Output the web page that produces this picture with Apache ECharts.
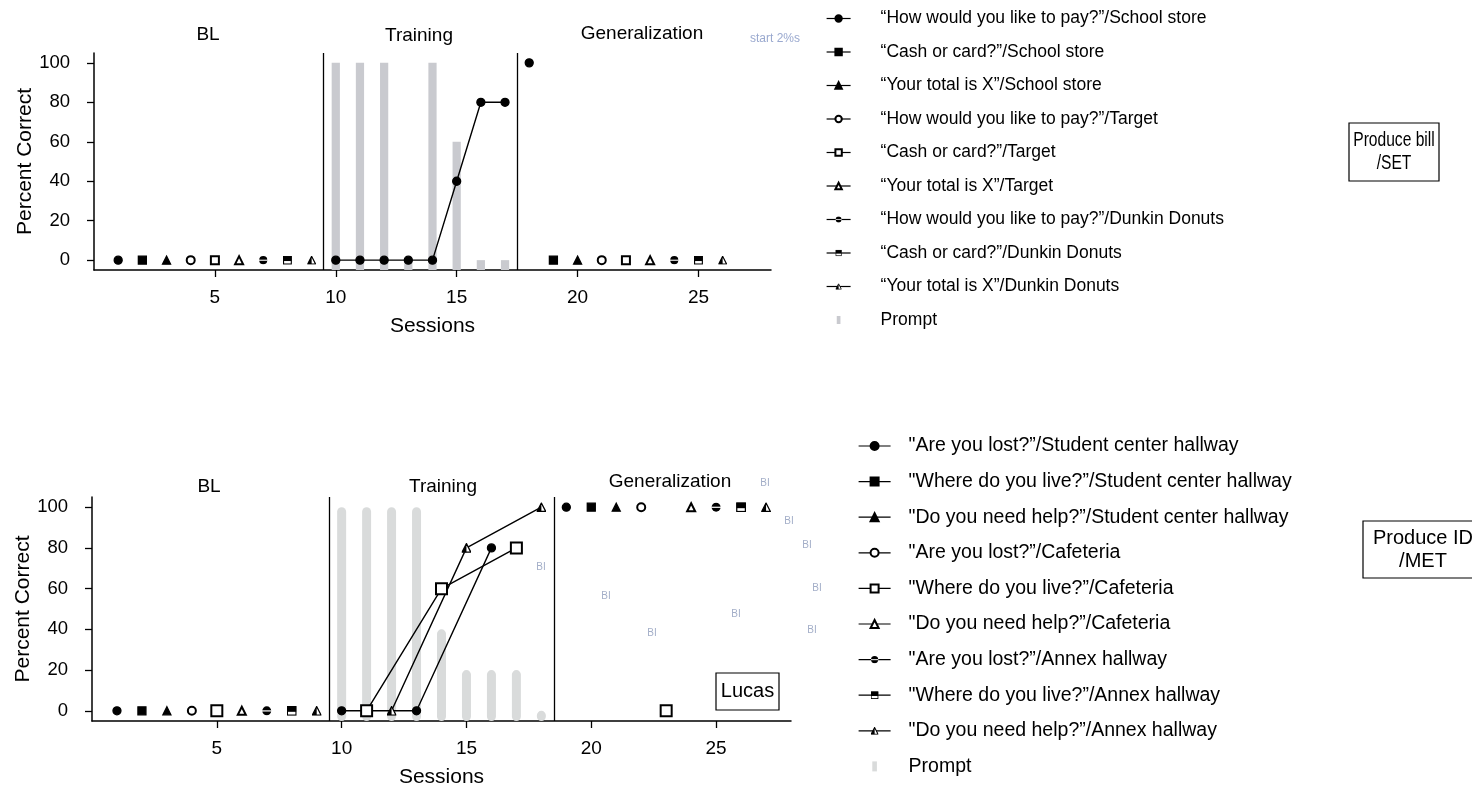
<!DOCTYPE html>
<html>
<head>
<meta charset="utf-8">
<title>Produce bill / Produce ID</title>
<script src="https://cdn.jsdelivr.net/npm/echarts@6/dist/echarts.min.js"></script>
<style>
  html, body { margin: 0; padding: 0; background: #fff; }
  #chart { width: 1472px; height: 791px; }
</style>
</head>
<body>
<div id="chart"></div>
<script>
// axis ticks
const sessionTicks = [5, 10, 15, 20, 25];
const percentTicks = [0, 20, 40, 60, 80, 100];
const phaseTitles = ['BL', 'Training', 'Generalization'];

// ---- top: Produce bill /SET   ([session, percent], '-' breaks a phase) ----
const billNames = [
  '“How would you like to pay?”/School store',
  '“Cash or card?”/School store',
  '“Your total is X”/School store',
  '“How would you like to pay?”/Target',
  '“Cash or card?”/Target',
  '“Your total is X”/Target',
  '“How would you like to pay?”/Dunkin Donuts',
  '“Cash or card?”/Dunkin Donuts',
  '“Your total is X”/Dunkin Donuts'
];
const billPayStore  = [[1, 0], '-', [10, 0], [11, 0], [12, 0], [13, 0], [14, 0], [15, 40], [16, 80], [17, 80], '-', [18, 100]];
const billCashStore = [[2, 0], '-', [19, 0]];
const billTotalStore = [[3, 0], '-', [20, 0]];
const billPayTarget = [[4, 0], '-', [21, 0]];
const billCashTarget = [[5, 0], '-', [22, 0]];
const billTotalTarget = [[6, 0], '-', [23, 0]];
const billPayDunkin = [[7, 0], '-', [24, 0]];
const billCashDunkin = [[8, 0], '-', [25, 0]];
const billTotalDunkin = [[9, 0], '-', [26, 0]];
const billPrompt = [[10, 100], [11, 100], [12, 100], [13, 0], [14, 100], [15, 60], [16, 0], [17, 0]];
const billPhaseBreaks = [9.5, 17.5];

// ---- bottom: Produce ID /MET ----
const idNames = [
  '"Are you lost?”/Student center hallway',
  '"Where do you live?”/Student center hallway',
  '"Do you need help?”/Student center hallway',
  '"Are you lost?”/Cafeteria',
  '"Where do you live?”/Cafeteria',
  '"Do you need help?”/Cafeteria',
  '"Are you lost?”/Annex hallway',
  '"Where do you live?”/Annex hallway',
  '"Do you need help?”/Annex hallway'
];
const idLostStudent = [[1, 0], '-', [10, 0], [13, 0], [16, 80], '-', [19, 100]];
const idLiveStudent = [[2, 0], '-', [20, 100]];
const idHelpStudent = [[3, 0], '-', [21, 100]];
const idLostCafe = [[4, 0], '-', [22, 100]];
const idLiveCafe = [[5, 0], '-', [11, 0], [14, 60], [17, 80], '-', [23, 0]];
const idHelpCafe = [[6, 0], '-', [24, 100]];
const idLostAnnex = [[7, 0], '-', [25, 100]];
const idLiveAnnex = [[8, 0], '-', [26, 100]];
const idHelpAnnex = [[9, 0], '-', [12, 0], [15, 80], [18, 100], '-', [27, 100]];
const idPrompt = [[10, 100], [11, 100], [12, 100], [13, 100], [14, 40], [15, 20], [16, 20], [17, 20], [18, 0]];
const idPhaseBreaks = [9.5, 18.5];

const FONT = '"Liberation Sans", Arial, sans-serif';
const Y_MIN = -5, Y_MAX = 105;

// half-filled markers as small svg images
function svgSymbol(body) {
  return 'image://data:image/svg+xml;charset=utf-8,' + encodeURIComponent(
    "<svg xmlns='http://www.w3.org/2000/svg' width='20' height='20' viewBox='0 0 20 20'>" + body + '</svg>');
}
const halfCircle = svgSymbol("<circle cx='10' cy='10' r='9' fill='#000'/><rect x='0' y='9' width='20' height='2.4' fill='#fff'/>");
const halfSquare = svgSymbol("<rect x='1.3' y='1.3' width='17.4' height='17.4' fill='#fff' stroke='#000' stroke-width='2.6'/><rect x='1' y='1' width='18' height='11' fill='#000'/>");
const halfTriangle = svgSymbol("<polygon points='10,1.5 18.7,18.5 1.3,18.5' fill='#fff' stroke='#000' stroke-width='2.6' stroke-linejoin='round'/><polygon points='10,1.5 10,18.5 1.3,18.5' fill='#000'/>");
const markers = ['circle', 'rect', 'triangle', 'emptyCircle', 'emptyRect', 'emptyTriangle', halfCircle, halfSquare, halfTriangle];

function lineSeries(name, data, symbol, gridIdx, size) {
  return {
    type: 'line', name: name, data: data,
    xAxisIndex: gridIdx, yAxisIndex: gridIdx,
    symbol: symbol, symbolSize: size, showAllSymbol: true,
    itemStyle: { color: '#000', borderColor: '#000', borderWidth: 1.3 },
    lineStyle: { color: '#000', width: 1.4 },
    z: 5
  };
}

// prompt bars drawn from the bottom of the axis up to the value
function promptSeries(data, gridIdx, color, rounded, breaks) {
  return {
    type: 'custom', name: 'Prompt', data: data,
    xAxisIndex: gridIdx, yAxisIndex: gridIdx,
    encode: { x: 0, y: 1 },
    itemStyle: { color: color },
    renderItem: function (params, api) {
      const top = api.coord([api.value(0), api.value(1)]);
      const base = api.coord([api.value(0), Y_MIN]);
      const w = api.size([1, 0])[0] * (rounded ? 0.36 : 0.34);
      return {
        type: 'rect',
        shape: { x: top[0] - w / 2, y: top[1], width: w, height: base[1] - top[1], r: rounded ? w / 2 : 0 },
        style: { fill: color }
      };
    },
    markLine: {
      silent: true, symbol: 'none', animation: false,
      label: { show: false },
      lineStyle: { color: '#000', width: 1.3, type: 'solid' },
      data: breaks.map(function (v) { return { xAxis: v }; })
    },
    z: 2
  };
}

function xAxisCfg(gridIdx) {
  return {
    type: 'value', gridIndex: gridIdx, min: 0, max: 28,
    name: 'Sessions', nameLocation: 'middle', nameGap: 46,
    nameTextStyle: { fontSize: 21, fontFamily: FONT, color: '#000' },
    axisLine: { onZero: false, lineStyle: { color: '#000', width: 1.5 } },
    axisTick: { length: 7, customValues: sessionTicks, lineStyle: { color: '#000', width: 1.3 } },
    axisLabel: { customValues: sessionTicks, margin: 18, fontSize: 19, fontFamily: FONT, color: '#000' },
    splitLine: { show: false }
  };
}

function yAxisCfg(gridIdx, nameGap) {
  return {
    type: 'value', gridIndex: gridIdx, min: Y_MIN, max: Y_MAX,
    name: 'Percent Correct', nameLocation: 'middle', nameGap: nameGap, nameRotate: 90,
    nameTextStyle: { fontSize: 21, fontFamily: FONT, color: '#000' },
    axisLine: { show: true, onZero: false, lineStyle: { color: '#000', width: 1.5 } },
    axisTick: { show: true, length: 7, customValues: percentTicks, lineStyle: { color: '#000', width: 1.3 } },
    axisLabel: { customValues: percentTicks, margin: 24, fontSize: 18.5, fontFamily: FONT, color: '#000' },
    splitLine: { show: false }
  };
}

const billSeriesData = [billPayStore, billCashStore, billTotalStore, billPayTarget, billCashTarget,
  billTotalTarget, billPayDunkin, billCashDunkin, billTotalDunkin];
const idSeriesData = [idLostStudent, idLiveStudent, idHelpStudent, idLostCafe, idLiveCafe,
  idHelpCafe, idLostAnnex, idLiveAnnex, idHelpAnnex];

const series = [];
series.push(promptSeries(billPrompt, 0, '#c9cacf', false, billPhaseBreaks));
billNames.forEach(function (n, i) { series.push(lineSeries(n, billSeriesData[i], markers[i], 0, i > 5 ? 9 : 8)); });
series.push(promptSeries(idPrompt, 1, '#d9dbdb', true, idPhaseBreaks));
idNames.forEach(function (n, i) {
  series.push(lineSeries(n, idSeriesData[i], markers[i], 1, i === 4 ? 11 : (i > 5 ? 10 : 8)));
});

function legendCfg(names, left, top, itemWidth, itemHeight, gap, pad, size, promptColor) {
  return {
    orient: 'vertical', left: left, top: top, padding: 0,
    itemWidth: itemWidth, itemHeight: itemHeight, itemGap: gap,
    selectedMode: false,
    lineStyle: { color: '#000', width: 1.2 },
    textStyle: { fontSize: size, fontFamily: FONT, color: '#000', lineHeight: 22, padding: [0, 0, 0, pad] },
    data: names.concat([{ name: 'Prompt', icon: 'path://M0,0 L6,0 L6,13 L0,13 Z', itemStyle: { color: promptColor } }])
  };
}

function text(x, y, str, size) {
  return {
    type: 'text', x: x, y: y,
    style: { text: str, fill: '#000', font: size + 'px ' + FONT, textAlign: 'center', textVerticalAlign: 'middle' }
  };
}

// framed note; squeeze narrows the text like the condensed print of the original
function boxLabel(x, y, w, h, lines, size, squeeze) {
  return {
    type: 'group',
    children: [
      { type: 'rect', shape: { x: x, y: y, width: w, height: h }, style: { fill: '#fff', stroke: '#000', lineWidth: 1.2 } },
      {
        type: 'text', x: x + w / 2, y: y + h / 2, scaleX: squeeze || 1,
        style: { text: lines, fill: '#000', font: size + 'px ' + FONT, textAlign: 'center', textVerticalAlign: 'middle', lineHeight: size + 3 }
      }
    ]
  };
}

// faint scan glitches seen in the lower panel
const glitchSpots = [[765, 483], [789, 521], [807, 545], [817, 588], [736, 614], [812, 630], [606, 596], [652, 633], [541, 567]];

const graphics = [
  text(208, 35, phaseTitles[0], 19), text(419, 36, phaseTitles[1], 19), text(642, 34, phaseTitles[2], 19),
  text(209, 487, phaseTitles[0], 19), text(443, 487, phaseTitles[1], 19), text(670, 482, phaseTitles[2], 19),
  { type: 'text', x: 750, y: 39, style: { text: 'start 2%s', fill: '#9aa9cf', font: '12px ' + FONT, textVerticalAlign: 'middle' } },
  boxLabel(1349, 123, 90, 58, 'Produce bill\n/SET', 20, 0.78),
  boxLabel(1363, 521, 120, 57, 'Produce ID\n/MET', 20),
  boxLabel(716, 673, 63, 37, 'Lucas', 20)
];
glitchSpots.forEach(function (p) {
  graphics.push({ type: 'text', x: p[0], y: p[1], style: { text: 'BI', fill: '#a3aec8', font: '10px ' + FONT, textAlign: 'center', textVerticalAlign: 'middle' } });
});

const chart = echarts.init(document.getElementById('chart'));
chart.setOption({
  animation: false,
  backgroundColor: '#fff',
  grid: [
    { left: 94, top: 53, width: 677, height: 217 },
    { left: 92, top: 497, width: 699, height: 224 }
  ],
  xAxis: [xAxisCfg(0), xAxisCfg(1)],
  yAxis: [yAxisCfg(0, 55), yAxisCfg(1, 58)],
  legend: [
    legendCfg(billNames, 826, 7.5, 24, 8, 11.5, 25, 17.5, '#c9cacf'),
    legendCfg(idNames, 858, 435, 32, 10, 13.6, 13, 19.5, '#d9dbdb')
  ],
  graphic: graphics,
  series: series
});
</script>
</body>
</html>
